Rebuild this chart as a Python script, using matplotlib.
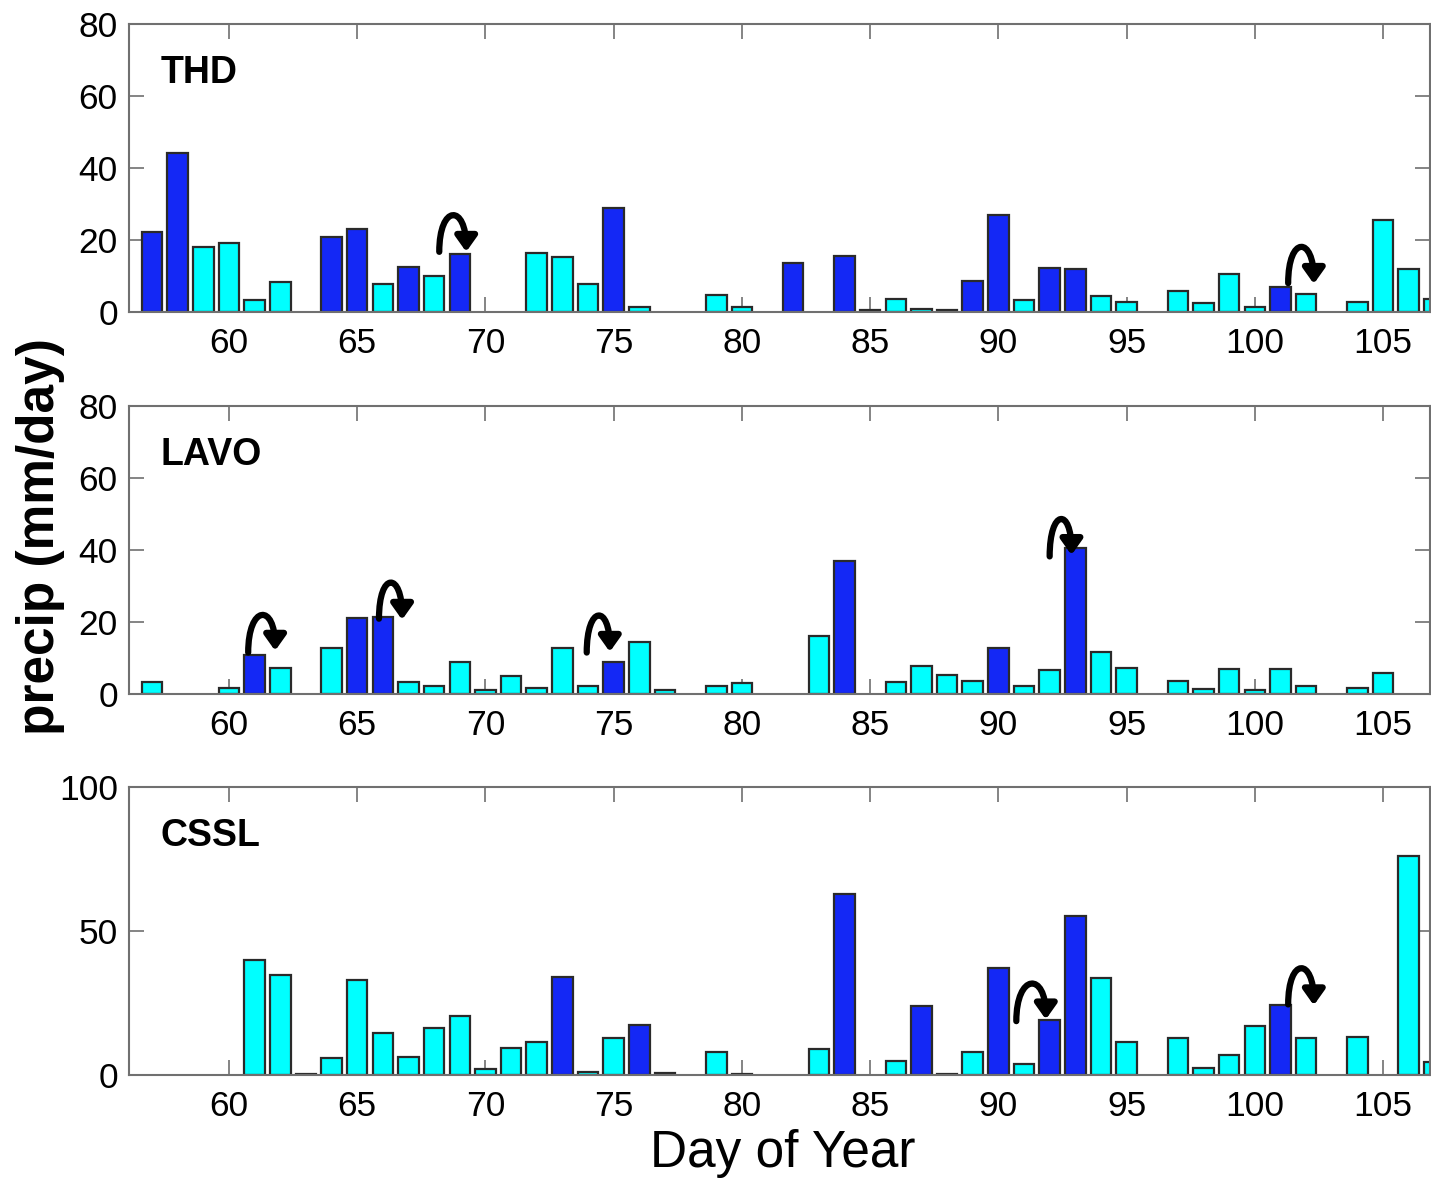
#Daily precip at three sites, days 57-107
import matplotlib.pyplot as plt
from matplotlib.path import Path
from matplotlib.patches import FancyArrowPatch

plt.rcParams['font.family'] = ['Liberation Sans', 'DejaVu Sans']

#THD
thd_days = [57, 58, 59, 60, 61, 62, 64, 65, 66, 67, 68, 69, 72, 73, 74, 75, 76, 79, 80, 82, 84,
            85, 86, 87, 88, 89, 90, 91, 92, 93, 94, 95, 97, 98, 99, 100, 101, 102, 104, 105, 106, 107]
thd_vals = [22.1, 44.2, 18.0, 19.1, 3.3, 8.4, 20.9, 23.0, 7.8, 12.6, 10.1, 16.0, 16.5, 15.4, 7.8,
            28.8, 1.5, 4.8, 1.5, 13.7, 15.6, 0.6, 3.6, 0.9, 0.6, 8.7, 26.9, 3.3, 12.3, 12.0, 4.3,
            2.8, 5.9, 2.5, 10.6, 1.5, 7.0, 5.1, 2.8, 25.6, 12.0, 3.7]
thd_kind = "bbcccc" + "bbcbcb" + "cccbc" + "cc" + "bbccccbbcbbcc" + "ccccbc" + "cccc"
thd_arrows = [(68.2, 16.7, 69.25, 16.7), (101.3, 8.0, 102.3, 7.8)]

#LAVO
lavo_days = [57, 60, 61, 62, 64, 65, 66, 67, 68, 69, 70, 71, 72, 73, 74, 75, 76, 77, 79, 80,
             83, 84, 86, 87, 88, 89, 90, 91, 92, 93, 94, 95, 97, 98, 99, 100, 101, 102, 104, 105]
lavo_vals = [3.4, 1.75, 10.8, 7.2, 12.7, 21.0, 21.3, 3.4, 2.2, 9.0, 1.2, 4.9, 1.75, 12.7, 2.2,
             9.0, 14.3, 1.2, 2.2, 3.0, 16.2, 37.0, 3.4, 7.9, 5.4, 3.7, 12.9, 2.2, 6.6, 40.5,
             11.7, 7.2, 3.6, 1.4, 6.9, 1.2, 6.9, 2.2, 1.75, 5.9]
lavo_kind = "ccbc" + "cbbccccccccb" + "ccccc" + "bccccbccb" + "cccccccccc"
lavo_arrows = [(60.75, 11.5, 61.8, 12.0), (65.85, 20.9, 66.75, 20.6),
               (73.95, 11.5, 74.85, 11.7), (92.0, 38.2, 92.85, 38.6)]

#CSSL
cssl_days = [61, 62, 63, 64, 65, 66, 67, 68, 69, 70, 71, 72, 73, 74, 75, 76, 77, 79, 80, 83,
             84, 86, 87, 88, 89, 90, 91, 92, 93, 94, 95, 97, 98, 99, 100, 101, 102, 104, 106, 107]
cssl_vals = [39.9, 34.6, 0.4, 5.9, 32.9, 14.7, 6.1, 16.2, 20.4, 2.1, 9.5, 11.4, 34.2, 1.1, 12.8,
             17.3, 0.7, 8.0, 0.3, 9.2, 63.0, 4.7, 23.9, 0.3, 8.0, 37.3, 3.7, 19.1, 55.2, 33.6,
             11.4, 12.8, 2.3, 7.0, 17.0, 24.4, 12.8, 13.2, 76.2, 4.6]
cssl_kind = "cccccccccccc" + "bccbccc" + "c" + "bcbccbcbbcc" + "ccccbcccc"
cssl_arrows = [(90.7, 18.7, 91.85, 19.3), (101.3, 24.5, 102.3, 24.2)]

panels = [('THD', thd_days, thd_vals, thd_kind, thd_arrows, 80, [0, 20, 40, 60, 80]),
          ('LAVO', lavo_days, lavo_vals, lavo_kind, lavo_arrows, 80, [0, 20, 40, 60, 80]),
          ('CSSL', cssl_days, cssl_vals, cssl_kind, cssl_arrows, 100, [0, 50, 100])]

colors = {'b': '#1428f5', 'c': '#00ffff'}
bottoms = [0.7354, 0.4114, 0.0882]

fig = plt.figure(figsize=(14.31, 11.79), dpi=100)

for (name, days, vals, kind, arrows, ymax, yticks), bot in zip(panels, bottoms):
    assert len(days) == len(vals) == len(kind)
    ax = fig.add_axes([0.0901, bot, 0.9092, 0.2443])
    ax.bar(days, vals, width=0.8, color=[colors[k] for k in kind],
           edgecolor='#2a2a2a', linewidth=1.6, zorder=2)

    #curved arrows above the flagged days
    hgt = 48 / (288 / ymax)
    for x0, y0, x1, y1 in arrows:
        p = Path([(x0, y0), (x0, y0 + hgt), (x1, y1 + hgt), (x1, y1)],
                 [Path.MOVETO, Path.CURVE4, Path.CURVE4, Path.CURVE4])
        ax.add_patch(FancyArrowPatch(path=p, arrowstyle='-|>,head_length=0.45,head_width=0.32',
                                     mutation_scale=20, lw=4.5, color='black',
                                     shrinkA=0, shrinkB=0, zorder=3))

    ax.set_xlim(56.1, 106.83)
    ax.set_ylim(0, ymax)
    ax.set_xticks(range(60, 106, 5))
    ax.set_yticks(yticks)
    ax.tick_params(direction='in', length=11, width=1.2, color='#707070',
                   top=True, right=True, labelsize=25.5)
    ax.tick_params(axis='x', pad=11)
    ax.tick_params(axis='y', pad=8)
    for s in ax.spines.values():
        s.set_color('#707070')
        s.set_linewidth(1.5)
    ax.text(0.024, 0.83, name, transform=ax.transAxes, fontsize=27,
            fontweight='bold', va='center', ha='left')

fig.text(0.028, 0.545, 'precip (mm/day)', rotation=90, fontsize=37, fontweight='bold',
         ha='center', va='center')
fig.text(0.547, 0.022, 'Day of Year', fontsize=37, ha='center', va='center')

plt.savefig('out.png', dpi=100)
